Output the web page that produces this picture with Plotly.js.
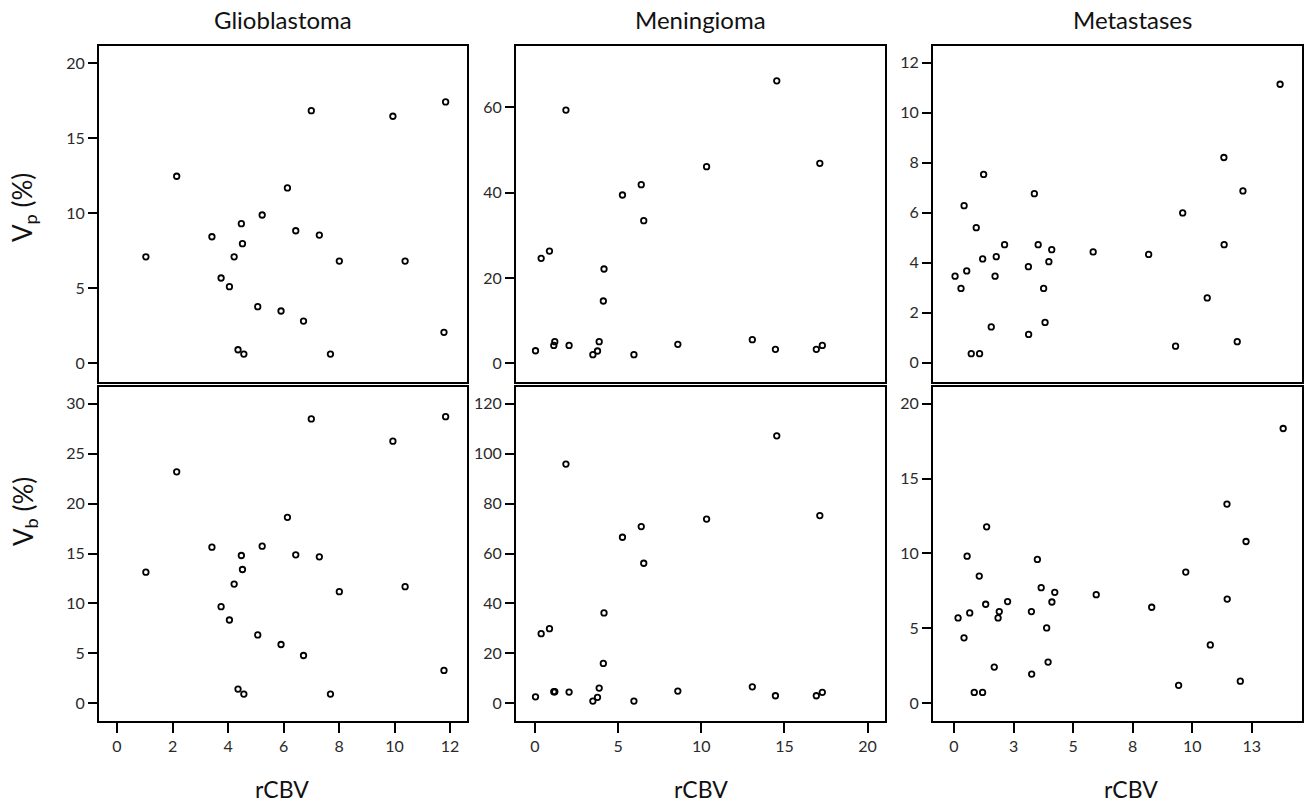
<!DOCTYPE html>
<html>
<head>
<meta charset="utf-8">
<script src="https://cdn.plot.ly/plotly-3.0.1.min.js"></script>
<style>html,body{margin:0;padding:0;background:#fff;}#chart{width:1305px;height:803px;}</style>
</head>
<body>
<div id="chart"></div>
<script>
// ---- Data ----
const panelTitles = ["Glioblastoma", "Meningioma", "Metastases"];
const xTitle = "rCBV";
const yTitleTop = "V<sub>p</sub> (%)";
const yTitleBottom = "V<sub>b</sub> (%)";

const gbmRcbv = [1.04, 2.15, 3.42, 3.75, 4.05, 4.22, 4.48, 4.52, 4.36, 4.57, 5.07, 5.23, 5.91, 6.14, 6.44, 6.72, 7.00, 7.29, 7.69, 8.01, 9.94, 10.38, 11.84, 11.78];
const gbmVp   = [7.1, 12.47, 8.44, 5.69, 5.11, 7.1, 9.31, 7.98, 0.91, 0.62, 3.78, 9.89, 3.49, 11.69, 8.84, 2.82, 16.84, 8.55, 0.62, 6.82, 16.47, 6.82, 17.42, 2.07];
const gbmVb   = [13.13, 23.18, 15.63, 9.68, 8.34, 11.94, 14.8, 13.4, 1.43, 0.93, 6.85, 15.73, 5.89, 18.62, 14.87, 4.79, 28.47, 14.67, 0.93, 11.18, 26.25, 11.68, 28.7, 3.29];

const menRcbv = [0.03, 0.37, 0.87, 1.13, 1.19, 1.86, 2.05, 3.48, 3.76, 3.86, 4.15, 4.11, 5.26, 5.95, 6.39, 6.54, 8.59, 10.32, 13.07, 14.46, 14.54, 16.92, 17.28, 17.13];
const menVp   = [2.95, 24.6, 26.3, 4.2, 5.07, 59.36, 4.2, 2.03, 2.89, 5.07, 22.1, 14.6, 39.45, 2.03, 41.87, 33.43, 4.45, 46.08, 5.54, 3.28, 66.2, 3.28, 4.2, 46.87];
const menVb   = [2.63, 27.9, 29.9, 4.65, 4.65, 95.8, 4.5, 0.92, 2.4, 6.1, 36.2, 15.97, 66.5, 0.92, 70.8, 56.1, 4.9, 73.8, 6.6, 3.05, 107.1, 3.05, 4.4, 75.2];

const metRcbv = [0.17, 0.42, 0.55, 0.66, 0.85, 1.06, 1.20, 1.33, 1.37, 1.69, 1.85, 1.90, 2.25, 3.25, 3.26, 3.50, 3.66, 3.89, 3.95, 4.11, 4.23, 5.97, 8.30, 9.43, 9.73, 10.76, 11.46, 11.47, 12.02, 12.26, 13.82];
const metVp   = [3.46, 2.97, 6.28, 3.67, 0.36, 5.4, 0.36, 4.15, 7.53, 1.43, 3.46, 4.24, 4.72, 3.84, 1.13, 6.76, 4.72, 2.97, 1.61, 4.04, 4.52, 4.43, 4.33, 0.66, 5.99, 2.59, 8.21, 4.72, 0.84, 6.87, 11.14];
const metVb   = [5.7, 4.37, 9.82, 6.03, 0.73, 8.49, 0.73, 6.61, 11.78, 2.42, 5.7, 6.12, 6.79, 6.12, 1.95, 9.6, 7.72, 5.03, 2.75, 6.76, 7.41, 7.25, 6.41, 1.2, 8.76, 3.9, 13.3, 6.96, 1.48, 10.8, 18.34];

const metTickVals = [0, 2.5, 5, 7.5, 10, 12.5];
const metTickText = ["0", "3", "5", "8", "10", "13"];

// ---- Styling / layout ----
const FONT = "Lato, 'Liberation Sans', sans-serif";
const marker = {symbol: "circle-open", size: 5.5, color: "#000", line: {color: "#000", width: 1.8}};

function tr(x, y, i) {
  const s = i === 1 ? "" : String(i);
  return {x: x, y: y, type: "scatter", mode: "markers", marker: marker,
          xaxis: "x" + s, yaxis: "y" + s, hoverinfo: "x+y", showlegend: false, cliponaxis: false};
}

const data = [
  tr(gbmRcbv, gbmVp, 1), tr(menRcbv, menVp, 2), tr(metRcbv, metVp, 3),
  tr(gbmRcbv, gbmVb, 4), tr(menRcbv, menVb, 5), tr(metRcbv, metVb, 6)
];

const W = 1305, H = 803;
const colPx = [[99, 467], [516, 885], [933, 1302]];
const rowPx = [[46, 382], [387, 721]];
const cd = c => [colPx[c][0] / W, colPx[c][1] / W];
const rd = r => [1 - rowPx[r][1] / H, 1 - rowPx[r][0] / H];

const tickFont = {family: FONT, size: 16, color: "#2a2a2a"};
function xax(c, r, range, extra) {
  const base = {domain: cd(c), range: range, showline: true, mirror: true, linecolor: "#000", linewidth: 2,
    showgrid: false, zeroline: false, tickfont: tickFont, fixedrange: true};
  if (r === 0) { Object.assign(base, {ticks: "", showticklabels: false}); }
  else { Object.assign(base, {ticks: "outside", ticklen: 10, tickwidth: 2, tickcolor: "#000"}); }
  return Object.assign(base, extra || {});
}
function yax(r, range, dtick) {
  return {domain: rd(r), range: range, dtick: dtick, tick0: 0, showline: true, mirror: true, linecolor: "#000", linewidth: 2,
    showgrid: false, zeroline: false, ticks: "outside", ticklen: 9, tickwidth: 2, tickcolor: "#000",
    tickfont: tickFont, fixedrange: true};
}

const layout = {
  width: W, height: H,
  margin: {l: 0, r: 0, t: 0, b: 0},
  paper_bgcolor: "#fff", plot_bgcolor: "#fff",
  font: {family: FONT, color: "#111"},
  showlegend: false,
  xaxis:  xax(0, 0, [-0.649, 12.61], {anchor: "y", dtick: 2, tick0: 0}),
  xaxis2: xax(1, 0, [-1.143, 21.05], {anchor: "y2", dtick: 5, tick0: 0}),
  xaxis3: xax(2, 0, [-0.756, 14.74], {anchor: "y3", tickmode: "array", tickvals: metTickVals, ticktext: metTickText}),
  xaxis4: xax(0, 1, [-0.649, 12.61], {anchor: "y4", dtick: 2, tick0: 0}),
  xaxis5: xax(1, 1, [-1.143, 21.05], {anchor: "y5", dtick: 5, tick0: 0}),
  xaxis6: xax(2, 1, [-0.882, 14.61], {anchor: "y6", tickmode: "array", tickvals: metTickVals, ticktext: metTickText}),
  yaxis:  Object.assign(yax(0, [-1.24, 21.15], 5), {anchor: "x"}),
  yaxis2: Object.assign(yax(0, [-4.38, 74.37], 20), {anchor: "x2"}),
  yaxis3: Object.assign(yax(0, [-0.773, 12.67], 2), {anchor: "x3"}),
  yaxis4: Object.assign(yax(1, [-1.77, 31.67], 5), {anchor: "x4"}),
  yaxis5: Object.assign(yax(1, [-7.07, 126.67], 20), {anchor: "x5"}),
  yaxis6: Object.assign(yax(1, [-1.18, 21.11], 5), {anchor: "x6"}),
  annotations: []
};

const titleX = [283, 700, 1132];
const rcbvX = [282, 701, 1131];
panelTitles.forEach((t, i) => {
  layout.annotations.push({text: t, xref: "paper", yref: "paper", x: titleX[i] / W, y: 1 - 20 / H,
    xanchor: "center", yanchor: "middle", showarrow: false, font: {family: FONT, size: 24, color: "#111"}});
  layout.annotations.push({text: xTitle, xref: "paper", yref: "paper", x: rcbvX[i] / W, y: 1 - 789 / H,
    xanchor: "center", yanchor: "middle", showarrow: false, font: {family: FONT, size: 23, color: "#111"}});
});
layout.annotations.push({text: yTitleTop, xref: "paper", yref: "paper", x: 24 / W, y: 1 - 208 / H, textangle: -90,
  xanchor: "center", yanchor: "middle", showarrow: false, font: {family: FONT, size: 26, color: "#111"}});
layout.annotations.push({text: yTitleBottom, xref: "paper", yref: "paper", x: 24 / W, y: 1 - 512 / H, textangle: -90,
  xanchor: "center", yanchor: "middle", showarrow: false, font: {family: FONT, size: 26, color: "#111"}});

Plotly.newPlot("chart", data, layout, {displayModeBar: false, staticPlot: true});
</script>
</body>
</html>
